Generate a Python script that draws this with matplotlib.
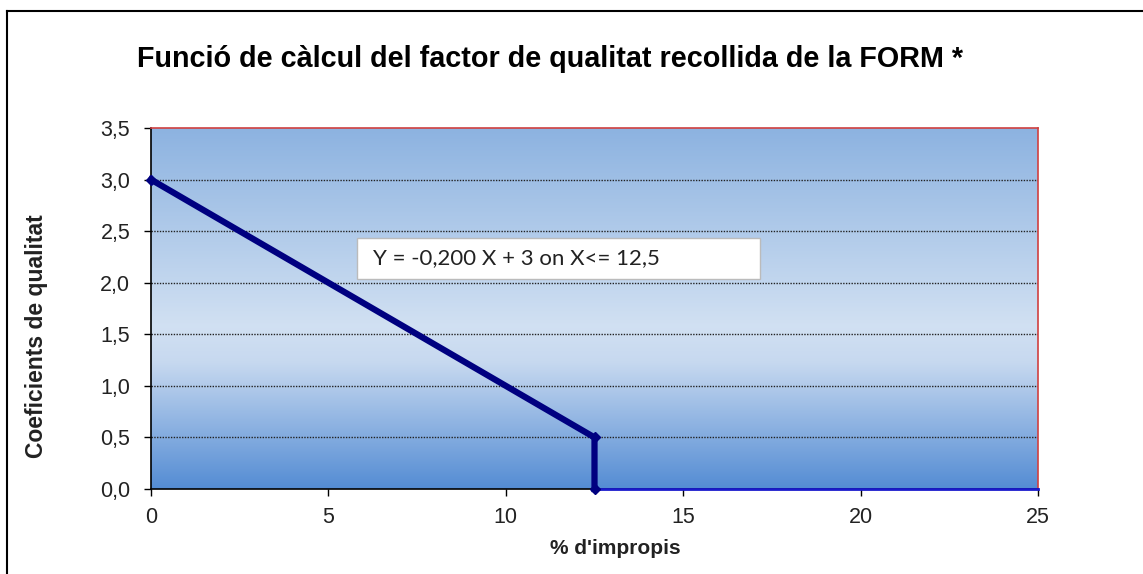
import numpy as np
import matplotlib
matplotlib.use("Agg")
import matplotlib.pyplot as plt
from matplotlib.colors import LinearSegmentedColormap
from matplotlib.lines import Line2D
from matplotlib.patches import Rectangle

# ---- data ----
x_vals = [0, 12.5, 12.5]
y_vals = [3.0, 0.5, 0.0]
x_zero = [12.5, 25]
y_zero = [0.0, 0.0]
x_ticks = [0, 5, 10, 15, 20, 25]
y_ticks = [0.0, 0.5, 1.0, 1.5, 2.0, 2.5, 3.0, 3.5]
y_tick_labels = ["0,0", "0,5", "1,0", "1,5", "2,0", "2,5", "3,0", "3,5"]
title = "Funció de càlcul del factor de qualitat recollida de la FORM *"
xlabel = "% d'impropis"
ylabel = "Coeficients de qualitat"
annotation = "Y = -0,200 X + 3 on X<= 12,5"

plt.rcParams['font.family'] = ['Liberation Sans', 'DejaVu Sans']

fig = plt.figure(figsize=(11.43, 5.74), dpi=100)
W, H = 1143, 574
ax = fig.add_axes([151 / W, 1 - 489 / H, (1038 - 151) / W, (489 - 128) / H])

ax.set_xlim(0, 25)
ax.set_ylim(0, 3.5)

# gradient background
cmap = LinearSegmentedColormap.from_list(
    "bg", [(0.0, (0.33, 0.55, 0.83)), (0.35, (0.78, 0.85, 0.94)),
           (0.45, (0.82, 0.88, 0.95)), (1.0, (0.55, 0.70, 0.88))])
grad = np.linspace(0, 1, 256).reshape(-1, 1)
ax.imshow(grad, cmap=cmap, aspect='auto', extent=[0, 25, 0, 3.5],
          origin='lower', zorder=0, interpolation='bicubic')

# gridlines
for yv in y_ticks[1:-1]:
    ax.axhline(yv, color='#222222', lw=1.0, ls=(0, (1, 1)), zorder=1)

# series
ax.plot(x_zero, y_zero, color='#1a1acc', lw=2.0, zorder=3, clip_on=False)
ax.plot(x_vals, y_vals, color='#000080', lw=4.5, marker='D', markersize=5,
        zorder=4, clip_on=False, solid_joinstyle='miter')

# annotation box
x0, x1 = 5.81, 17.16
y0, y1 = 2.036, 2.434
ax.add_patch(Rectangle((x0, y0), x1 - x0, y1 - y0, facecolor='white',
                       edgecolor='#bbbbbb', lw=1.0, zorder=5))
ax.text(6.26, (y0 + y1) / 2, annotation, fontsize=16, va='center', ha='left',
        family=['Lato', 'DejaVu Sans'], color='#222222', zorder=6)

# spines
ax.spines['top'].set_color('#d04040')
ax.spines['right'].set_color('#d04040')
ax.spines['left'].set_color('black')
ax.spines['bottom'].set_color('black')
for s in ax.spines.values():
    s.set_linewidth(1.2)

ax.set_xticks(x_ticks)
ax.set_xticklabels([str(v) for v in x_ticks])
ax.set_yticks(y_ticks)
ax.set_yticklabels(y_tick_labels)
ax.tick_params(direction='out', length=5, width=1.0, labelsize=15.5,
               colors='black', labelcolor='#222222')
ax.tick_params(axis='y', pad=10)
ax.tick_params(axis='x', pad=8)

fig.text(615 / W, 1 - 549 / H, xlabel, fontsize=15, fontweight='bold',
         color='#222222', ha='center', va='center')
fig.text(37 / W, 1 - 336 / H, ylabel, fontsize=16.5, fontweight='bold',
         color='#222222', ha='center', va='center', rotation=90)

fig.text(550 / W, 1 - 59 / H, title, fontsize=20.7, fontweight='bold',
         ha='center', va='center', color='black')

# outer frame (partial, as in screenshot)
fig.add_artist(Line2D([7 / W, 7 / W], [0, 1 - 11 / H], transform=fig.transFigure,
                      color='black', lw=1.5))
fig.add_artist(Line2D([7 / W, 1], [1 - 11 / H, 1 - 11 / H], transform=fig.transFigure,
                      color='black', lw=1.5))

fig.savefig("out.png", dpi=100)
